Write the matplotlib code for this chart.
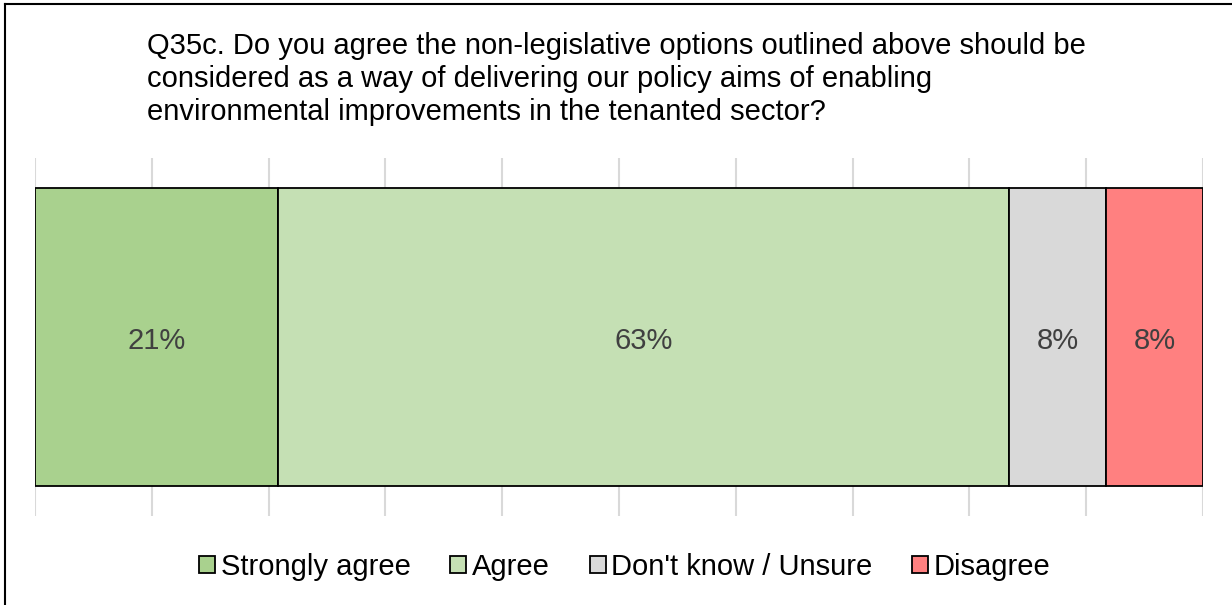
import matplotlib
matplotlib.use("Agg")
from matplotlib import pyplot
from matplotlib.lines import Line2D
from matplotlib.patches import Patch

pyplot.rcParams['font.family'] = ['Liberation Sans', 'DejaVu Sans']

question = ("Q35c. Do you agree the non-legislative options outlined above should be\n"
            "considered as a way of delivering our policy aims of enabling\n"
            "environmental improvements in the tenanted sector?")
categories = ["Strongly agree", "Agree", "Don't know / Unsure", "Disagree"]
shares = [20.8, 62.6, 8.3, 8.3]
colors = ["#A9D18E", "#C5E0B4", "#D9D9D9", "#FF8080"]

fig = pyplot.figure(figsize=(12.32, 6.05), dpi=100, facecolor='w')
ax = fig.add_axes([35 / 1232, 1 - 516 / 605, 1168 / 1232, 358 / 605])

left = 0
for name, val, col in zip(categories, shares, colors):
    ax.barh(0, val, left=left, height=0.83, color=col, edgecolor='black',
            linewidth=1.3, label=name, zorder=3)
    ax.text(left + val / 2, -0.01, "{:.0f}%".format(val), ha='center', va='center',
            fontsize=21, color='#404040', zorder=4)
    left += val

ax.set_xlim(0, 100)
ax.set_ylim(-0.5, 0.5)
ax.set_xticks(range(0, 101, 10))
ax.set_yticks([])
ax.tick_params(axis='x', length=0, labelbottom=False)
ax.grid(axis='x', color='#D9D9D9', linewidth=1.5, zorder=0)
for s in ax.spines.values():
    s.set_visible(False)

fig.text(147 / 1232, 1 - 32 / 605, question, ha='left', va='top', fontsize=21,
         linespacing=1.22, color='black')

handles = [Patch(facecolor=c, edgecolor='black', linewidth=1.3) for c in colors]
fig.legend(handles, categories, loc='center', bbox_to_anchor=(625 / 1232, 1 - 567 / 605),
           ncol=4, frameon=False, fontsize=21, handlelength=0.55, handleheight=0.55,
           handletextpad=0.2, columnspacing=1.35, borderpad=0)

# frame lines along the top and left edges
fig.add_artist(Line2D([5 / 1232, 1], [1 - 4 / 605, 1 - 4 / 605], color='black', linewidth=1.5,
                      transform=fig.transFigure))
fig.add_artist(Line2D([5 / 1232, 5 / 1232], [0, 1 - 4 / 605], color='black', linewidth=1.5,
                      transform=fig.transFigure))

fig.savefig("out.png", dpi=100)
